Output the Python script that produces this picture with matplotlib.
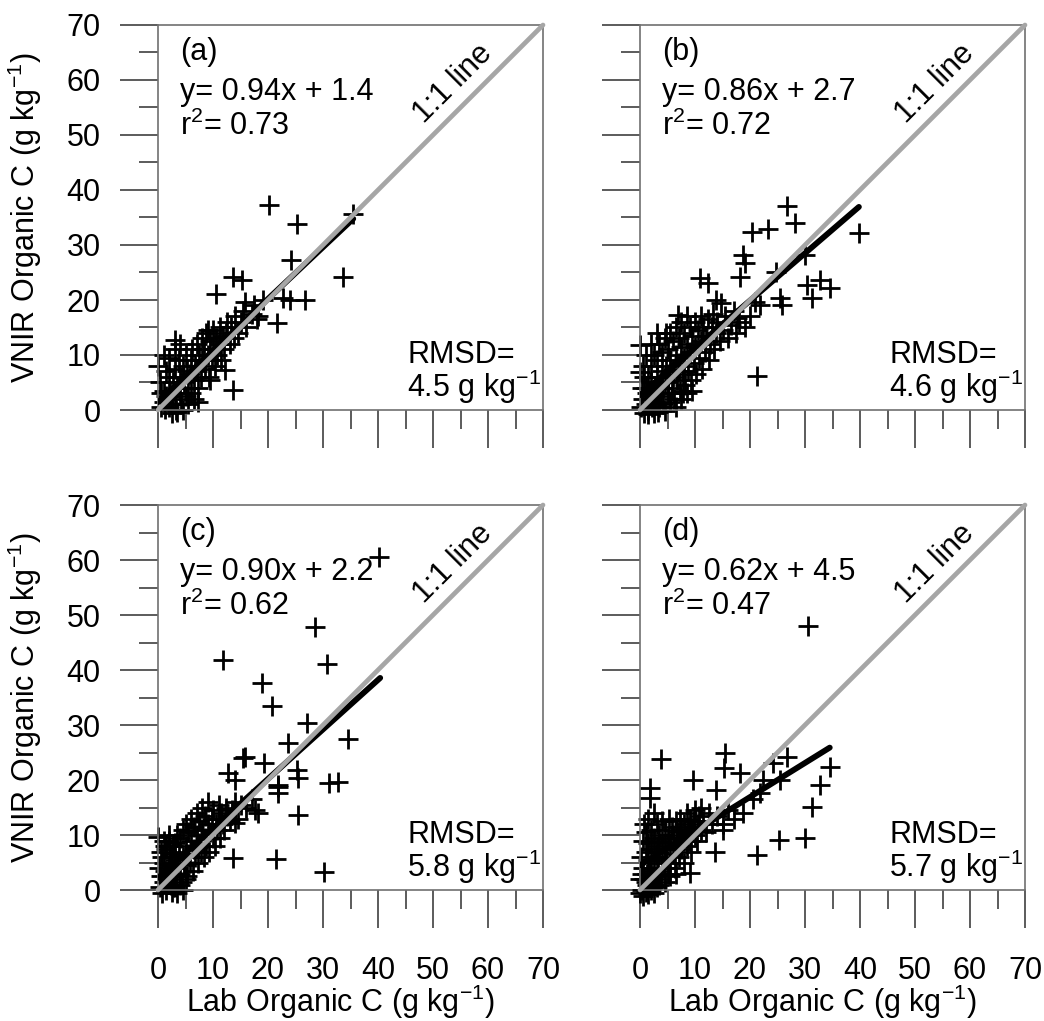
import matplotlib
matplotlib.use("Agg")
import matplotlib.pyplot as plt
from matplotlib.ticker import MultipleLocator
import numpy as np

plt.rcParams['font.family'] = ['Liberation Sans', 'DejaVu Sans']
plt.rcParams['mathtext.fontset'] = 'custom'
plt.rcParams['mathtext.rm'] = 'Liberation Sans'
plt.rcParams['mathtext.it'] = 'Liberation Sans'
plt.rcParams['mathtext.default'] = 'regular'

# ---------- data ----------
a_lab = [20.2, 25.3, 35.5, 24.2, 33.7, 13.7, 15.2, 10.6, 15.8, 22.8, 24.0, 26.8, 21.6, 18.2, 13.7, 3.1, 9.1, 9.5, 12.2, 7.3,
         0.5, 1.0, 1.2, 1.5, 2.0, 2.2, 2.5, 2.8, 3.0, 3.0, 3.2, 3.5, 3.8, 4.0, 4.0, 4.2, 4.5, 4.8, 5.0, 5.0,
         5.2, 5.5, 5.8, 6.0, 6.0, 6.2, 6.5, 6.8, 7.0, 7.0, 7.3, 7.5, 7.8, 8.0, 8.0, 8.3, 8.5, 8.8, 9.0, 9.2,
         9.5, 9.8, 10.0, 10.0, 10.3, 10.5, 10.8, 11.0, 11.3, 11.5, 11.8, 12.0, 12.3, 12.5, 13.0, 13.3, 13.8, 14.0, 14.5, 15.0,
         15.5, 16.0, 17.0, 17.5, 18.0, 19.0, 0.0, 0.3, 1.0, 1.5, 2.0, 0.5, 2.5, 3.5, 4.5, 5.5, 6.5, 3.0, 4.0, 2.0, 1.0]
a_vnir = [37.3, 33.9, 35.6, 27.3, 24.2, 24.2, 23.6, 21.1, 19.6, 20.4, 20.0, 20.0, 15.9, 17.0, 3.6, 12.7, 14.5, 5.5, 7.3, 1.5,
          0.5, 1.5, 0.2, 2.5, 0.5, 3.5, 1.0, 5.0, 2.0, 7.5, 0.0, 4.0, 9.0, 3.0, 6.0, 1.0, 8.0, 5.0, 2.5, 10.0,
          7.0, 4.0, 6.5, 9.0, 3.0, 11.0, 5.5, 8.0, 7.0, 12.0, 4.0, 10.0, 6.0, 9.0, 13.0, 11.0, 7.5, 14.0, 10.0, 6.0,
          12.5, 9.0, 11.0, 14.5, 8.0, 13.0, 10.0, 12.0, 15.0, 9.0, 13.5, 11.0, 14.0, 16.0, 12.0, 15.0, 13.0, 17.0, 14.0, 16.0,
          18.0, 15.0, 17.5, 19.0, 16.5, 20.0, 8.0, 5.0, 10.0, 7.0, 9.5, 3.0, -0.5, -0.3, 0.0, 1.0, 2.0, 11.0, 12.0, 6.0, 3.5]

b_lab = [26.7, 28.2, 20.3, 23.3, 39.8, 18.8, 19.1, 18.2, 10.9, 12.4, 24.8, 30.0, 30.3, 32.7, 34.5, 31.2, 25.5, 25.8, 21.8, 20.9,
         17.6, 21.2, 0.0, 0.0, 7.8, 14.8, 13.9, 6.9, 4.8,
         0.2, 0.5, 0.8, 1.0, 1.0, 1.2, 1.5, 1.5, 1.8, 2.0, 2.0, 2.2, 2.5, 2.5, 2.8, 3.0, 3.0, 3.2, 3.5, 3.5,
         3.8, 4.0, 4.0, 4.2, 4.5, 4.5, 4.8, 5.0, 5.0, 5.2, 5.5, 5.5, 5.8, 6.0, 6.0, 6.2, 6.5, 6.5, 6.8, 7.0,
         7.0, 7.2, 7.5, 7.5, 7.8, 8.0, 8.0, 8.2, 8.5, 8.5, 8.8, 9.0, 9.0, 9.2, 9.5, 9.8, 10.0, 10.0, 10.2, 10.5,
         10.8, 11.0, 11.0, 11.3, 11.5, 11.8, 12.0, 12.3, 12.5, 12.8, 13.0, 13.3, 13.5, 13.8, 14.0, 14.5, 15.0, 15.5, 16.0, 16.5,
         17.0, 17.5, 18.0, 19.0, 20.0, 0.5, 1.0, 0.3, 2.0, 3.0, 0.8, 1.5, 2.5, 3.5, 4.5, 5.5, 6.5, 7.5, 8.5, 9.5,
         2.0, 3.0, 4.0, 5.0, 6.0, 7.0, 8.0]
b_vnir = [37.0, 34.0, 32.4, 32.9, 32.2, 28.2, 26.7, 24.2, 24.0, 23.1, 25.1, 28.2, 22.7, 23.6, 22.2, 20.4, 20.4, 19.1, 19.1, 19.7,
          16.7, 6.1, 11.8, 6.9, 3.1, 19.4, 20.0, 17.3, 14.0,
          0.5, 2.0, -0.5, 1.0, 4.0, 3.0, 0.0, 6.0, 2.0, 5.0, 8.0, 0.5, 3.5, 10.0, 1.5, 6.0, 9.0, -0.3, 4.5, 12.0,
          2.5, 7.0, 10.5, 1.0, 5.0, 13.0, 8.0, 3.0, 11.0, 6.5, 14.0, 9.0, 4.0, 12.5, 7.5, 2.0, 10.0, 15.0, 5.5, 13.0,
          8.5, 3.5, 11.5, 16.0, 6.5, 14.0, 9.5, 4.5, 12.0, 17.0, 7.0, 15.0, 10.5, 5.5, 13.5, 8.5, 16.0, 11.5, 6.5, 14.5,
          9.5, 17.0, 12.5, 7.5, 15.0, 10.5, 13.5, 16.5, 9.0, 12.0, 15.0, 17.5, 11.0, 14.0, 16.0, 12.5, 14.5, 17.0, 13.0, 15.5,
          18.0, 14.0, 16.0, 15.0, 17.0, 8.0, 10.0, 4.0, 12.0, 14.0, 6.0, -0.8, -0.6, 0.5, -0.2, 1.5, 0.5, 2.0, 3.0, 3.5,
          2.5, 3.0, 4.0, 5.0, 6.0, 7.0, 8.0]

c_lab = [40.1, 28.5, 30.7, 11.9, 18.9, 20.7, 27.1, 23.6, 34.5, 15.5, 19.3, 25.2, 25.5, 31.0, 32.8, 21.9, 21.9, 25.5, 13.7, 21.5,
         30.2, 18.2, 14.0, 12.8, 15.8, 21.9, 17.7, 14.0, 7.3, 0.0,
         0.3, 0.5, 0.8, 1.0, 1.0, 1.3, 1.5, 1.5, 1.8, 2.0, 2.0, 2.3, 2.5, 2.5, 2.8, 3.0, 3.0, 3.3, 3.5, 3.5,
         3.8, 4.0, 4.0, 4.3, 4.5, 4.5, 4.8, 5.0, 5.0, 5.3, 5.5, 5.5, 5.8, 6.0, 6.0, 6.3, 6.5, 6.5, 6.8, 7.0,
         7.0, 7.3, 7.5, 7.5, 7.8, 8.0, 8.0, 8.3, 8.5, 8.5, 8.8, 9.0, 9.0, 9.3, 9.5, 9.8, 10.0, 10.0, 10.3, 10.5,
         10.8, 11.0, 11.0, 11.3, 11.5, 11.8, 12.0, 12.3, 12.5, 13.0, 13.5, 14.0, 14.5, 15.0, 16.0, 17.0, 0.5, 1.0, 1.5, 2.0,
         2.5, 3.0, 3.5, 4.0, 4.5, 5.0, 0.2, 0.8, 1.2, 1.8, 2.2, 2.8, 3.2]
c_vnir = [60.6, 47.8, 41.1, 41.8, 37.7, 33.5, 30.4, 26.8, 27.4, 24.0, 23.1, 21.8, 20.4, 19.4, 19.7, 18.8, 17.6, 13.6, 5.9, 5.6,
          3.3, 14.0, 20.0, 21.3, 24.2, 19.1, 14.5, 12.2, 7.8, 9.6,
          0.5, 2.5, -0.5, 1.5, 5.0, 3.5, 0.0, 7.5, 2.0, 4.5, 9.0, 1.0, 3.0, 6.5, 0.5, 5.5, 8.5, 2.5, 4.0, 10.0,
          7.0, 3.0, 9.5, 1.5, 6.0, 11.0, 4.5, 8.0, 12.0, 2.5, 6.5, 10.5, 5.0, 9.0, 13.0, 3.5, 7.5, 11.5, 6.0, 10.0,
          14.0, 5.0, 8.5, 12.5, 7.0, 11.0, 15.0, 6.0, 9.5, 13.5, 8.0, 12.0, 16.0, 7.0, 10.5, 13.0, 9.5, 14.5, 8.0, 12.0,
          11.0, 15.5, 13.0, 9.5, 14.0, 12.0, 11.0, 15.0, 13.5, 12.5, 14.5, 16.0, 13.0, 15.5, 15.0, 16.5, 7.0, 9.0, 8.0, 10.0,
          -0.3, 0.5, -0.6, 1.0, 0.0, 2.0, 4.0, 6.0, 8.0, 3.0, 6.0, 8.0, 5.0]

d_lab = [30.5, 3.8, 15.5, 15.2, 18.2, 26.7, 24.2, 9.7, 1.8, 1.8, 34.5, 32.7, 31.2, 30.0, 25.2, 21.2, 22.4, 21.8, 25.5, 13.9,
         18.8, 13.6, 9.1, 15.1, 20.5,
         0.0, 0.2, 0.3, 0.5, 0.5, 0.8, 1.0, 1.0, 1.0, 1.3, 1.5, 1.5, 1.5, 1.8, 2.0, 2.0, 2.0, 2.3, 2.5, 2.5,
         2.5, 2.8, 3.0, 3.0, 3.0, 3.3, 3.5, 3.5, 3.8, 4.0, 4.0, 4.0, 4.3, 4.5, 4.5, 4.8, 5.0, 5.0, 5.3, 5.5,
         5.5, 5.8, 6.0, 6.0, 6.3, 6.5, 6.5, 6.8, 7.0, 7.0, 7.3, 7.5, 7.5, 7.8, 8.0, 8.0, 8.3, 8.5, 8.5, 8.8,
         9.0, 9.0, 9.3, 9.5, 9.8, 10.0, 10.0, 10.3, 10.5, 10.8, 11.0, 11.0, 11.5, 12.0, 12.5, 13.0, 14.0, 15.0, 16.0, 17.0,
         0.0, 0.5, 1.0, 1.5, 2.0, 2.5, 3.0, 3.5, 0.3, 0.8, 1.3, 1.8, 4.5, 5.5, 6.5]
d_vnir = [48.0, 23.9, 24.9, 22.1, 21.2, 24.2, 23.1, 20.0, 18.5, 16.7, 22.4, 19.1, 15.1, 9.4, 9.1, 6.4, 20.0, 17.6, 20.0, 18.2,
          14.0, 7.0, 3.1, 10.9, 16.5,
          2.0, 6.0, 0.0, 9.0, 4.0, 12.0, 1.5, 7.0, 10.5, 3.0, 5.5, 8.5, 13.0, 0.5, 4.0, 7.5, 11.0, 2.5, 6.0, 9.5,
          14.0, 1.0, 5.0, 8.0, 12.0, 3.5, 7.0, 10.0, 2.0, 5.5, 9.0, 12.5, 4.0, 7.5, 11.0, 6.0, 3.0, 9.5, 13.0, 5.0,
          8.5, 11.5, 6.5, 10.0, 4.0, 8.0, 12.5, 10.5, 6.0, 9.5, 13.0, 7.5, 11.0, 9.0, 5.0, 12.0, 10.0, 8.0, 14.0, 11.5,
          9.0, 13.0, 7.0, 11.0, 12.5, 10.0, 14.5, 9.0, 12.0, 13.5, 11.0, 15.0, 12.5, 10.5, 14.0, 12.0, 13.5, 12.0, 14.5, 13.0,
          -0.5, -1.0, -0.3, -0.8, 0.0, -0.5, 0.5, 1.0, 3.0, 2.0, 1.0, 3.5, 1.5, 2.5, 3.0]

panel_labels = ['(a)', '(b)', '(c)', '(d)']
slopes = [0.94, 0.86, 0.90, 0.62]
intercepts = [1.4, 2.7, 2.2, 4.5]
r2_values = ['0.73', '0.72', '0.62', '0.47']
rmsd_values = ['4.5', '4.6', '5.8', '5.7']
fit_xmax = [35.5, 39.8, 40.4, 34.5]

lab_data = [a_lab, b_lab, c_lab, d_lab]
vnir_data = [a_vnir, b_vnir, c_vnir, d_vnir]

# ---------- figure ----------
W, H = 1044, 1021
fig = plt.figure(figsize=(W / 100, H / 100), dpi=100)

lefts = [158, 640, 158, 640]
bottoms = [410, 410, 890, 890]
size_px = 385

FS = 22
tick_col = '#404040'
spine_col = '#707070'

for i in range(4):
    ax = fig.add_axes([lefts[i] / W, 1 - bottoms[i] / H, size_px / W, size_px / H])
    ax.set_xlim(0, 70)
    ax.set_ylim(0, 70)

    ax.plot(lab_data[i], vnir_data[i], linestyle='none', marker='+', color='black',
            markersize=14, markeredgewidth=2.0, clip_on=False, zorder=2)

    fx = np.array([0, fit_xmax[i]])
    ax.plot(fx, slopes[i] * fx + intercepts[i], color='black', linewidth=4.2,
            solid_capstyle='round', zorder=3)
    ax.plot([0, 70], [0, 70], color='#a6a6a6', linewidth=3.4,
            solid_capstyle='round', clip_on=False, zorder=4)

    ax.text(53.6, 59.3, '1:1 line', rotation=45, rotation_mode='anchor',
            ha='center', va='center', fontsize=FS)
    ax.text(4, 63.6, panel_labels[i], fontsize=FS, va='baseline')
    ax.text(4, 56.4, 'y= %.2fx + %.1f' % (slopes[i], intercepts[i]), fontsize=FS, va='baseline')
    ax.text(4, 50.0, 'r$^{2}$= ' + r2_values[i], fontsize=FS, va='baseline')
    ax.text(45.3, 8.5, 'RMSD=', fontsize=FS, va='baseline')
    ax.text(45.3, 2.4, rmsd_values[i] + ' g kg$^{-1}$', fontsize=FS, va='baseline')

    ax.xaxis.set_major_locator(MultipleLocator(10))
    ax.xaxis.set_minor_locator(MultipleLocator(5))
    ax.yaxis.set_major_locator(MultipleLocator(10))
    ax.yaxis.set_minor_locator(MultipleLocator(5))
    ax.tick_params(which='major', direction='out', length=27.4, width=1.2, color=tick_col)
    ax.tick_params(which='minor', direction='out', length=13.7, width=1.2, color=tick_col)
    ax.tick_params(axis='y', which='major', pad=14, labelsize=FS)
    ax.tick_params(axis='x', which='major', pad=20, labelsize=FS)
    for s in ax.spines.values():
        s.set_color(spine_col)
        s.set_linewidth(1.2)

    if i in (0, 1):
        ax.set_xticklabels([])
    else:
        ax.text(0.475, -0.291, 'Lab Organic C (g kg$^{-1}$)', transform=ax.transAxes,
                ha='center', va='center', fontsize=FS)
    if i in (1, 3):
        ax.set_yticklabels([])
    else:
        ax.text(-0.345, 0.5, 'VNIR Organic C (g kg$^{-1}$)', transform=ax.transAxes,
                ha='center', va='center', rotation=90, fontsize=FS)

fig.savefig('out.png', dpi=100)
